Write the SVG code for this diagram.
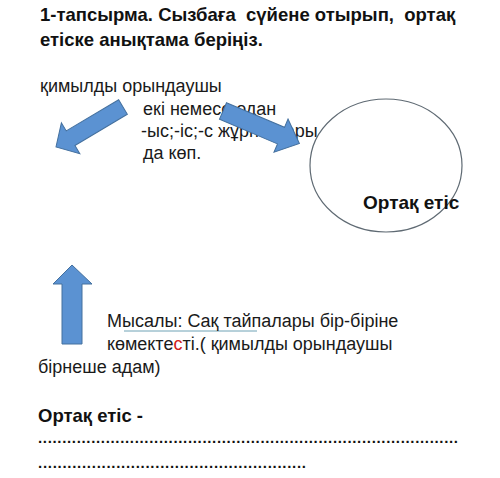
<svg xmlns="http://www.w3.org/2000/svg" width="500" height="478" viewBox="0 0 500 478">
<style>
.h{font-family:"Liberation Sans",Arial,sans-serif;font-weight:bold;fill:#111}
.t{font-family:"Liberation Sans",Arial,sans-serif;font-size:18px;fill:#1a1a1a}
.arr{fill:#5b92d2;stroke:#44709e;stroke-width:1}
</style>
<rect width="500" height="478" fill="#fff"/>
<g id="title">
<text class="h" x="40" y="21" font-size="18.5" xml:space="preserve">1-тапсырма. Сызбаға  сүйене отырып,  ортақ</text>
<text class="h" x="40" y="46" font-size="18.5">етіске анықтама беріңіз.</text>
</g>
<g id="actor-text">
<text class="t" x="40" y="92" font-size="19">қимылды орындаушы</text>
</g>
<g id="suffix-text">
<text class="t" x="143" y="115">екі немесе одан</text>
<text class="t" x="141" y="137">-ыс;-іс;-с жұрнақтары</text>
<text class="t" x="143" y="159">да көп.</text>
</g>
<g id="circle-node">
<ellipse cx="386" cy="165.5" rx="76" ry="66.5" fill="none" stroke="#5f6a73" stroke-width="1.2"/>
<text class="h" x="363" y="209" font-size="19">Ортақ етіс</text>
</g>
<g id="example-text">
<line x1="124" y1="331" x2="257" y2="331" stroke="#6fa2b5" stroke-width="1"/>
<text class="t" x="107" y="327">Мысалы: Сақ тайпалары бір-біріне</text>
<text class="t" x="107" y="350">көмекте<tspan fill="#d02020">с</tspan>ті.( қимылды орындаушы</text>
<text class="t" x="38" y="373">бірнеше адам)</text>
</g>
<g id="connectors">
<polygon class="arr" transform="translate(123,107) rotate(149.2)" points="0,-8.5 61,-8.5 61,-18 78,0 61,18 61,8.5 0,8.5"/>
<polygon class="arr" transform="translate(223,111) rotate(23)" points="0,-9 63,-9 63,-18 83,0 63,18 63,9 0,9"/>
<polygon class="arr" points="62,344 62,284 53,284 72,265 92,284 82,284 82,344"/>
</g>
<g id="answer">
<text class="h" x="38" y="422" font-size="18.5">Ортақ етіс -</text>
<text class="h" x="38" y="443" font-size="15" textLength="420" lengthAdjust="spacing">.......................................................................................</text>
<text class="h" x="38" y="468" font-size="15" textLength="268" lengthAdjust="spacing">.......................................................</text>
</g>
</svg>
